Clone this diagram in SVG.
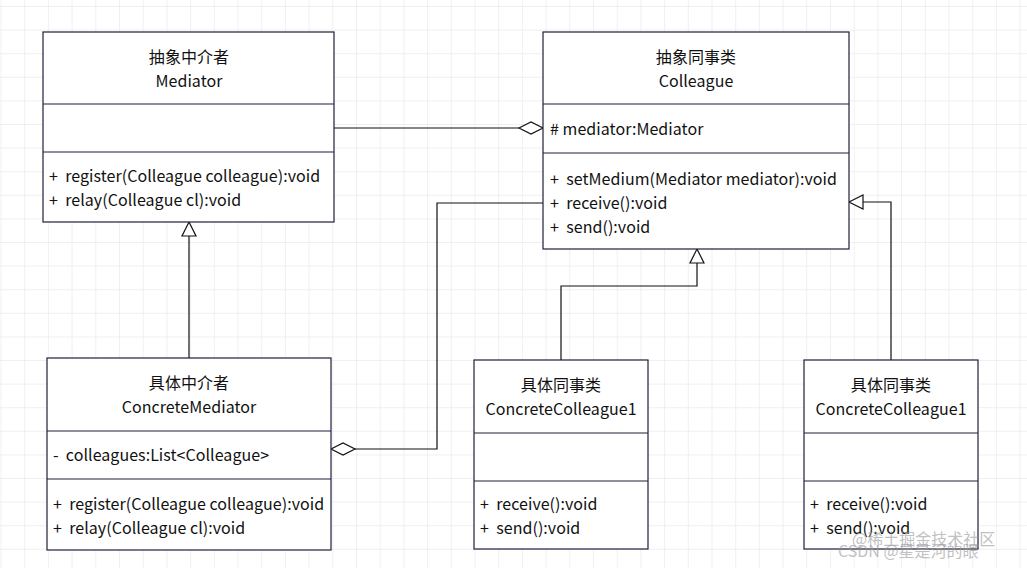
<svg xmlns="http://www.w3.org/2000/svg" width="1027" height="568" viewBox="0 0 1027 568">
<style>
.box{fill:#fff;stroke:#1f1f3a;stroke-width:1.2}
.sep{stroke:#1f1f3a;stroke-width:1.2}
text{font-family:"Microsoft YaHei","Noto Sans CJK SC","Liberation Sans",sans-serif;font-size:16px;letter-spacing:0.05px;fill:#111;white-space:pre}
.c{text-anchor:middle}
.ln{fill:none;stroke:#111;stroke-width:1.2}
.wm{fill:#999;opacity:0.6;font-size:16px;letter-spacing:0}
</style>
<defs>
<pattern id="g" width="23.7" height="23.6" patternUnits="userSpaceOnUse" x="0.5" y="6">
<path d="M0 0H23.7M0 0V23.6" fill="none" stroke="#e2e2e2" stroke-width="1"/>
</pattern>
</defs>
<rect width="1027" height="568" fill="#fff"/>
<rect width="1027" height="568" fill="url(#g)"/>
<g id="connectors">
<path class="ln" d="M334 128H519"/>
<path class="ln" d="M519 128L531 122L543 128L531 134Z" style="fill:#fff"/>
<path class="ln" d="M189 358V236"/>
<path class="ln" d="M189 222L196 236H182Z" style="fill:#fff"/>
<path class="ln" d="M355 449H437V203H543"/>
<path class="ln" d="M331 449L343 443L355 449L343 455Z" style="fill:#fff"/>
<path class="ln" d="M561 360V286H697V263"/>
<path class="ln" d="M697 249L704 263H690Z" style="fill:#fff"/>
<path class="ln" d="M891 360V202H863"/>
<path class="ln" d="M849 202L863 195V209Z" style="fill:#fff"/>
</g>
<g id="mediator">
<rect class="box" x="43" y="32" width="291" height="190"/>
<path class="sep" d="M43 104H334M43 152H334"/>
<text class="c" x="189" y="63">抽象中介者</text>
<text class="c" x="189" y="87">Mediator</text>
<text x="49" y="182" xml:space="preserve">+  register(Colleague colleague):void</text>
<text x="49" y="206" xml:space="preserve">+  relay(Colleague cl):void</text>
</g>
<g id="colleague">
<rect class="box" x="543" y="32" width="306" height="217"/>
<path class="sep" d="M543 104H849M543 153H849"/>
<text class="c" x="696" y="63">抽象同事类</text>
<text class="c" x="696" y="87">Colleague</text>
<text x="550" y="135" xml:space="preserve"># mediator:Mediator</text>
<text x="550" y="185" xml:space="preserve">+  setMedium(Mediator mediator):void</text>
<text x="550" y="209" xml:space="preserve">+  receive():void</text>
<text x="550" y="233" xml:space="preserve">+  send():void</text>
</g>
<g id="concreteMediator">
<rect class="box" x="47" y="358" width="284" height="192"/>
<path class="sep" d="M47 431H331M47 479H331"/>
<text class="c" x="189" y="389">具体中介者</text>
<text class="c" x="189" y="413">ConcreteMediator</text>
<text x="53" y="461" xml:space="preserve">-  colleagues:List&lt;Colleague&gt;</text>
<text x="53" y="510" xml:space="preserve">+  register(Colleague colleague):void</text>
<text x="53" y="534" xml:space="preserve">+  relay(Colleague cl):void</text>
</g>
<g id="concreteColleague1a">
<rect class="box" x="474" y="360" width="174" height="189"/>
<path class="sep" d="M474 433H648M474 481H648"/>
<text class="c" x="561" y="391">具体同事类</text>
<text class="c" x="561" y="415">ConcreteColleague1</text>
<text x="480" y="510" xml:space="preserve">+  receive():void</text>
<text x="480" y="534" xml:space="preserve">+  send():void</text>
</g>
<g id="concreteColleague1b">
<rect class="box" x="804" y="360" width="174" height="189"/>
<path class="sep" d="M804 433H978M804 481H978"/>
<text class="c" x="891" y="391">具体同事类</text>
<text class="c" x="891" y="415">ConcreteColleague1</text>
<text x="810" y="510" xml:space="preserve">+  receive():void</text>
<text x="810" y="534" xml:space="preserve">+  send():void</text>
</g>
<text class="wm" x="852" y="545">@稀土掘金技术社区</text>
<text class="wm" x="838" y="557">CSDN @星是河的眼</text>
</svg>
